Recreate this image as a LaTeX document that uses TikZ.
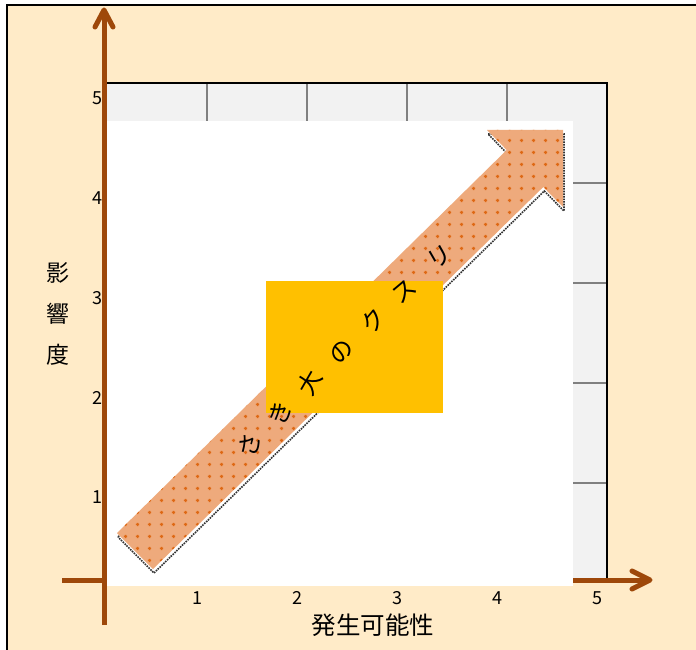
\documentclass[tikz,border=0pt]{standalone}
\usepackage{fontspec}
\newfontfamily\jp{Noto Sans CJK JP}
\usetikzlibrary{patterns.meta}
\definecolor{bgpeach}{RGB}{255,235,200}
\definecolor{axisbrown}{RGB}{158,72,10}
\definecolor{gridfill}{RGB}{242,242,242}
\definecolor{gridgray}{RGB}{128,128,128}
\definecolor{boxgold}{RGB}{255,192,0}
\definecolor{arrowfill}{RGB}{238,170,124}
\definecolor{arrowdot}{RGB}{222,104,20}
\tikzdeclarepattern{
  name=plusmarks,
  type=uncolored,
  bottom left={(0pt,0pt)},
  top right={(12pt,12pt)},
  tile size={(12pt,12pt)},
  code={
    \fill (4.3pt,5.2pt) rectangle (7.7pt,6.8pt);
    \fill (5.2pt,4.3pt) rectangle (6.8pt,7.7pt);
  }
}
\begin{document}
\begin{tikzpicture}[x=1pt,y=-1pt,
  axisline/.style={draw=axisbrown,line width=5pt},
  axistip/.style={draw=axisbrown,line width=5pt,line cap=round,line join=round},
  gridrule/.style={draw=gridgray,line width=2.5pt},
  ticklabel/.style={font=\jp\fontsize{18}{18}\selectfont,inner sep=0pt},
  axistitle/.style={font=\jp\fontsize{23}{23}\selectfont,inner sep=0pt},
  xtitle/.style={font=\jp\fontsize{24.5}{24.5}\selectfont,inner sep=0pt},
  arrowchar/.style={font=\jp\fontsize{24}{24}\selectfont,inner sep=0pt},
  shadowline/.style={draw=black!80,densely dotted,line width=1.6pt},
]
\useasboundingbox (0,0) rectangle (696,650);
% background frame
\fill[bgpeach] (7,5) rectangle (696,650);
\draw[black,line width=2pt] (7,652) -- (7,5) -- (698,5);
% grid box
\fill[gridfill] (106,83) rectangle (607,580);
\foreach \x in {207,307,407,507} \draw[gridrule] (\x,83) -- (\x,580);
\foreach \y in {183,283,383,483} \draw[gridrule] (106,\y) -- (607,\y);
\draw[black,line width=2pt] (106,83) rectangle (607,580);
% axes
\coordinate (ybot) at (104,625);
\coordinate (ytip) at (104,10);
\coordinate (yl) at (95,27);
\coordinate (yr) at (113,27);
\coordinate (xleft) at (62,580);
\coordinate (xtip) at (650,580);
\coordinate (xu) at (632,571);
\coordinate (xd) at (632,589);
\draw[axisline] (ybot) -- (104,14);
\draw[axistip] (yl) -- (ytip) -- (yr);
\draw[axisline] (xleft) -- (646,580);
\draw[axistip] (xu) -- (xtip) -- (xd);
% white plot area
\fill[white] (106.5,121) rectangle (573,586);
% big arrow
\coordinate (p1) at (117,533);
\coordinate (q1) at (506.7,150);
\coordinate (a1) at (487,130);
\coordinate (tip) at (563,130);
\coordinate (a2) at (563,207);
\coordinate (q2) at (543.3,187);
\coordinate (p2) at (153,569);
\begin{scope}[transform canvas={shift={(1,4)}}]
\draw[shadowline] (p1) -- (q1) -- (a1) -- (tip) -- (a2) -- (q2) -- (p2) -- cycle;
\end{scope}
\fill[arrowfill] (p1) -- (q1) -- (a1) -- (tip) -- (a2) -- (q2) -- (p2) -- cycle;
\fill[pattern={plusmarks},pattern color=arrowdot] (p1) -- (q1) -- (a1) -- (tip) -- (a2) -- (q2) -- (p2) -- cycle;
% gold box
\fill[boxgold] (266,281) rectangle (443,413);
% arrow text
\node[arrowchar,rotate=30] (c1) at (440,257) {リ};
\node[arrowchar,rotate=40] (c2) at (404,292) {ス};
\node[arrowchar,rotate=50] (c3) at (373,320) {ク};
\node[arrowchar,rotate=55] (c4) at (342,352) {の};
\node[arrowchar,rotate=60] (c5) at (310,383) {大};
\node[arrowchar,rotate=70] (c6) at (280,413) {き};
\node[arrowchar,rotate=80] (c7) at (250,445) {さ};
% tick labels
\node[ticklabel,anchor=east] (y5) at (103,98) {5};
\node[ticklabel,anchor=east] (y4) at (103,198) {4};
\node[ticklabel,anchor=east] (y3) at (103,298) {3};
\node[ticklabel,anchor=east] (y2) at (103,398) {2};
\node[ticklabel,anchor=east] (y1) at (103,497) {1};
\node[ticklabel] (x1) at (197,598) {1};
\node[ticklabel] (x2) at (297,598) {2};
\node[ticklabel] (x3) at (397,598) {3};
\node[ticklabel] (x4) at (497,598) {4};
\node[ticklabel] (x5) at (597,598) {5};
% axis titles
\node[axistitle] (t1) at (58,273) {影};
\node[axistitle] (t2) at (58,314) {響};
\node[axistitle] (t3) at (58,355) {度};
\node[xtitle] (xt) at (373,625) {発生可能性};
\end{tikzpicture}
\end{document}
